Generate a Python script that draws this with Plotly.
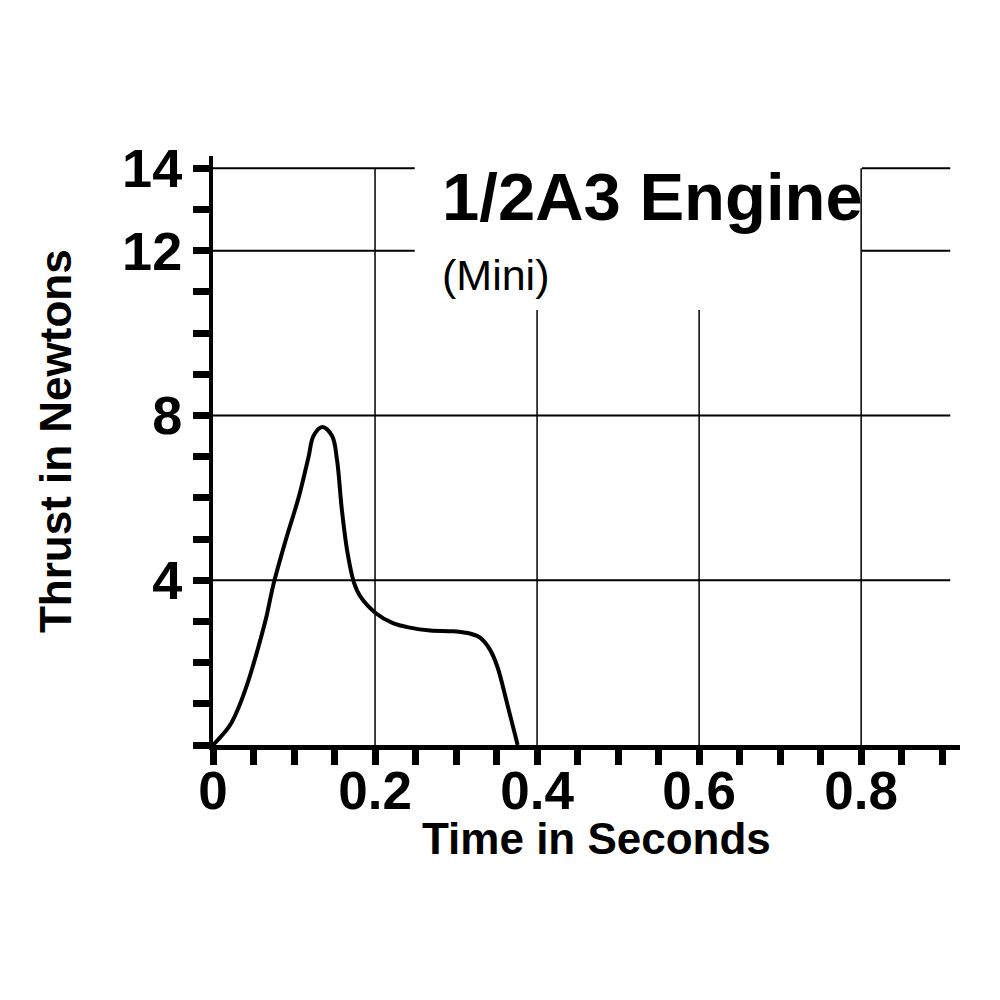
import plotly.graph_objects as go

# thrust curve
time_s = [0, 0.020, 0.032, 0.044, 0.055, 0.065, 0.075, 0.090, 0.106, 0.118,
          0.124, 0.135, 0.147, 0.153, 0.159, 0.166, 0.174, 0.182, 0.201, 0.222,
          0.243, 0.268, 0.297, 0.318, 0.330, 0.342, 0.351, 0.363, 0.376]
thrust_n = [0, 0.45, 0.93, 1.58, 2.31, 3.04, 3.93, 4.99, 6.03, 7.0,
            7.5, 7.72, 7.5, 6.93, 5.72, 4.67, 3.94, 3.6, 3.2, 2.96,
            2.85, 2.78, 2.76, 2.70, 2.6, 2.31, 1.9, 1.01, 0]

x_tick_vals = [0, 0.2, 0.4, 0.6, 0.8]
x_tick_text = ['0', '0.2', '0.4', '0.6', '0.8']
y_tick_vals = [4, 8, 12, 14]
y_tick_text = ['4', '8', '12', '14']

title_text = '1/2A3 Engine'
subtitle_text = '(Mini)'
x_title = 'Time in Seconds'
y_title = 'Thrust in Newtons'

x_max = 0.922
y_max = 14.3

fig = go.Figure()
fig.add_trace(go.Scatter(
    x=time_s, y=thrust_n, mode='lines',
    line=dict(color='black', width=4, shape='spline', smoothing=1.0),
    hoverinfo='skip', showlegend=False,
))

# grid lines drawn by hand since some are broken around the title
grid_w = 2
shapes = []
for yv in [4, 8]:
    shapes.append(dict(type='line', xref='x', yref='y', x0=0, x1=0.91, y0=yv, y1=yv,
                       line=dict(color='black', width=grid_w)))
for yv in [12, 14]:
    shapes.append(dict(type='line', xref='x', yref='y', x0=0, x1=0.249, y0=yv, y1=yv,
                       line=dict(color='black', width=grid_w)))
    shapes.append(dict(type='line', xref='x', yref='y', x0=0.801, x1=0.91, y0=yv, y1=yv,
                       line=dict(color='black', width=grid_w)))
for xv in [0.2, 0.8]:
    shapes.append(dict(type='line', xref='x', yref='y', x0=xv, x1=xv, y0=0, y1=14,
                       line=dict(color='black', width=1.5)))
for xv in [0.4, 0.6]:
    shapes.append(dict(type='line', xref='x', yref='y', x0=xv, x1=xv, y0=0, y1=10.56,
                       line=dict(color='black', width=1.5)))

annotations = [
    dict(text=title_text, xref='paper', yref='paper', x=0.304, y=0.932,
         xanchor='left', yanchor='middle', showarrow=False,
         font=dict(family='Liberation Sans', size=67, color='black', weight='bold')),
    dict(text=subtitle_text, xref='paper', yref='paper', x=0.304, y=0.798,
         xanchor='left', yanchor='middle', showarrow=False,
         font=dict(family='Liberation Sans', size=43, color='black')),
    dict(text=x_title, xref='paper', yref='paper', x=0.514, y=-0.158,
         xanchor='center', yanchor='middle', showarrow=False,
         font=dict(family='Liberation Sans', size=44, color='black', weight='bold')),
    dict(text=y_title, xref='paper', yref='paper', x=-0.2115, y=0.516, textangle=-90,
         xanchor='center', yanchor='middle', showarrow=False,
         font=dict(family='Liberation Sans', size=44, color='black', weight='bold')),
]

fig.update_layout(
    width=1000, height=1000,
    margin=dict(l=205, r=48, t=148, b=263, autoexpand=False),
    paper_bgcolor='white', plot_bgcolor='white',
    shapes=shapes, annotations=annotations,
    xaxis=dict(
        range=[0, x_max], showgrid=False, zeroline=False,
        showline=True, linecolor='black', linewidth=5,
        tickmode='array', tickvals=x_tick_vals, ticktext=x_tick_text,
        ticks='outside', ticklen=15, tickwidth=7, tickcolor='black',
        ticklabelstandoff=-20,
        tickfont=dict(family='Liberation Sans', size=53, color='black', weight='bold'),
        minor=dict(tickmode='linear', tick0=0, dtick=0.05, ticks='outside',
                   ticklen=15, tickwidth=7, tickcolor='black', showgrid=False),
    ),
    yaxis=dict(
        range=[0, y_max], showgrid=False, zeroline=False,
        showline=True, linecolor='black', linewidth=4,
        tickmode='array', tickvals=y_tick_vals, ticktext=y_tick_text,
        ticks='outside', ticklen=16, tickwidth=7, tickcolor='black',
        tickfont=dict(family='Liberation Sans', size=54, color='black', weight='bold'),
        minor=dict(tickmode='linear', tick0=0, dtick=1, ticks='outside',
                   ticklen=16, tickwidth=7, tickcolor='black', showgrid=False),
    ),
)

fig.write_html("out.html")
